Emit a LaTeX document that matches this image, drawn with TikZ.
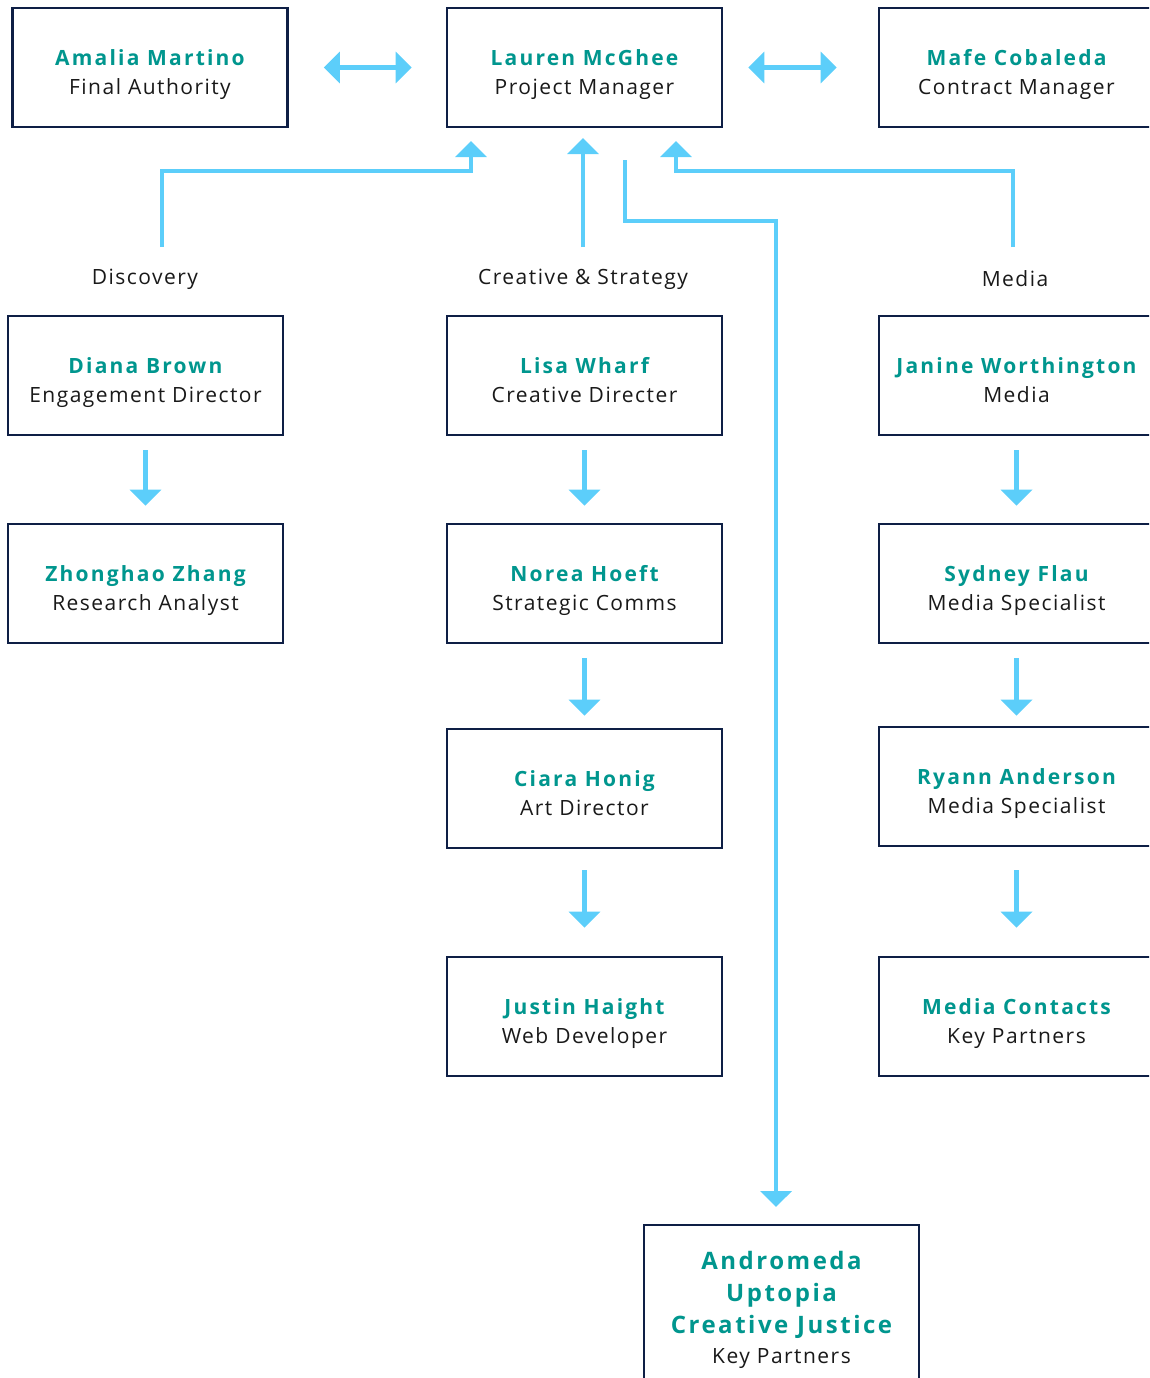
\documentclass[tikz,border=0pt]{standalone}
\usepackage{fontspec}
\setmainfont{Open Sans}[LetterSpace=7, BoldFeatures={LetterSpace=10.5}]
\usetikzlibrary{arrows.meta}
\definecolor{navy}{HTML}{0E1F45}
\definecolor{teal}{HTML}{00968E}
\definecolor{sky}{HTML}{5CCEFA}
\newcommand{\nm}[1]{{\color{teal}\bfseries #1}}
\newcommand{\cardtext}[2]{\rule{0pt}{30pt}\nm{#1}\\#2\rule[-5pt]{0pt}{5pt}}
\tikzset{
  card/.style={draw=navy, line width=2.6pt, fill=white, minimum width=275pt, minimum height=119pt, align=center, inner sep=0pt, font=\fontsize{21}{29}\selectfont, text=black!90},
  flow/.style={draw=sky, line width=4.5pt, -{Triangle[width=31pt,length=16pt]}},
  biflow/.style={draw=sky, line width=4.5pt, {Triangle[width=31pt,length=16pt]}-{Triangle[width=31pt,length=16pt]}},
  grp/.style={font=\fontsize{21}{26}\selectfont, text=black!90, inner sep=0pt}
}
\begin{document}
\begin{tikzpicture}[x=1pt,y=-1pt]
\useasboundingbox (0,0) rectangle (1149,1378);
\clip (0,0) rectangle (1149,1378);
% top row
\node[card] (amalia) at (150,67.5) {\cardtext{Amalia Martino}{Final Authority}};
\node[card] (lauren) at (584.5,67.5) {\cardtext{Lauren McGhee}{Project Manager}};
\node[card] (mafe) at (1016.5,67.5) {\cardtext{Mafe Cobaleda}{Contract Manager}};
% columns
\node[card] (diana) at (145.5,375.5) {\cardtext{Diana Brown}{Engagement Director}};
\node[card] (zhong) at (145.5,583.5) {\cardtext{Zhonghao Zhang}{Research Analyst}};
\node[card] (lisa) at (584.5,375.5) {\cardtext{Lisa Wharf}{Creative Directer}};
\node[card] (norea) at (584.5,583.5) {\cardtext{Norea Hoeft}{Strategic Comms}};
\node[card] (ciara) at (584.5,788.5) {\cardtext{Ciara Honig}{Art Director}};
\node[card] (justin) at (584.5,1016.5) {\cardtext{Justin Haight}{Web Developer}};
\node[card] (janine) at (1016.5,375.5) {\cardtext{Janine Worthington}{Media}};
\node[card] (sydney) at (1016.5,583.5) {\cardtext{Sydney Flau}{Media Specialist}};
\node[card] (ryann) at (1016.5,786.5) {\cardtext{Ryann Anderson}{Media Specialist}};
\node[card] (contacts) at (1016.5,1016.5) {\cardtext{Media Contacts}{Key Partners}};
\node[card, minimum height=202pt, font=\fontsize{24}{32}\selectfont] (andro) at (781.5,1326) {\rule{0pt}{44pt}\nm{Andromeda}\\\nm{Uptopia}\\\nm{Creative Justice}\\[-2pt]{\fontsize{21}{29}\selectfont Key Partners}\\[31pt]};
% group labels
\node[grp] (ldisc) at (145,279) {Discovery};
\node[grp] (lcre) at (583,279) {Creative \& Strategy};
\node[grp] (lmed) at (1015,279) {Media};
% connector coordinates
\coordinate (dstart) at (162,247);
\coordinate (dtip) at (471,141);
\coordinate (cstart) at (583,247);
\coordinate (ctip) at (583,138);
\coordinate (mstart) at (1013,247);
\coordinate (mtip) at (676,141);
\coordinate (astart) at (625,160);
% double arrows
\draw[biflow, shorten <=35pt, shorten >=34pt] (amalia) -- (lauren);
\draw[biflow, shorten <=25pt, shorten >=41pt] (lauren) -- (mafe);
% up arrows
\draw[flow] (dstart) |- (471,171) -- (dtip);
\draw[flow] (cstart) -- (ctip);
\draw[flow] (mstart) |- (676,171) -- (mtip);
% long arrow to Andromeda
\draw[flow] (astart) |- (776,221) -- (776,1207);
% down arrows
\draw[flow, shorten <=14pt, shorten >=17pt] (diana) -- (zhong);
\draw[flow, shorten <=14pt, shorten >=17pt] (lisa) -- (norea);
\draw[flow, shorten <=14pt, shorten >=12pt] (norea) -- (ciara);
\draw[flow, shorten <=21pt, shorten >=28pt] (ciara) -- (justin);
\draw[flow, shorten <=14pt, shorten >=17pt] (janine) -- (sydney);
\draw[flow, shorten <=14pt, shorten >=10pt] (sydney) -- (ryann);
\draw[flow, shorten <=23pt, shorten >=28pt] (ryann) -- (contacts);
\end{tikzpicture}
\end{document}
